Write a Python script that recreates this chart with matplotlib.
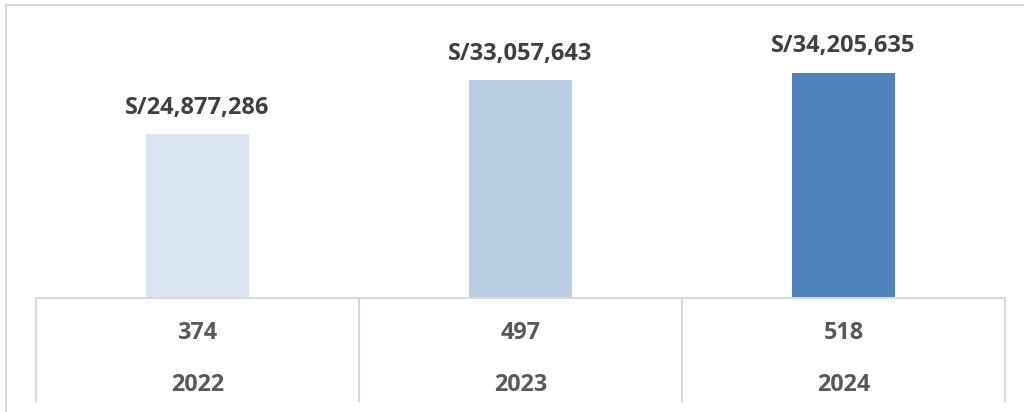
import matplotlib.pyplot as plt
import matplotlib.transforms as mtransforms
from matplotlib.lines import Line2D

# datos
years = ['2022', '2023', '2024']
amounts = [24877286, 33057643, 34205635]
counts = [374, 497, 518]
bar_colors = ['#DAE3F0', '#B9CDE5', '#4F81BD']

W, H = 1024, 412
fig = plt.figure(figsize=(W / 100, H / 100), dpi=100)
ax = fig.add_axes([36 / W, 1 - 298 / H, (1005 - 36) / W, (298 - 20) / H])

x = list(range(len(years)))
ax.bar(x, amounts, width=0.316, color=bar_colors)
ax.set_xlim(-0.5, len(years) - 0.5)
ax.set_ylim(0, 42.2e6)

for xi, v in zip(x, amounts):
    ax.annotate('S/{:,}'.format(v), (xi, v), xytext=(0, 19), textcoords='offset points',
                ha='center', va='center', fontsize=17, fontweight='bold',
                family='Open Sans', color='#404040')

# tabla debajo del eje
grid = '#D9D9D9'
for s in ['top', 'right', 'left']:
    ax.spines[s].set_visible(False)
ax.spines['bottom'].set_color(grid)
ax.spines['bottom'].set_linewidth(1.5)
ax.set_xticks([])
ax.set_yticks([])

trans = mtransforms.blended_transform_factory(ax.transData, ax.transAxes)
for b in [-0.5, 0.5, 1.5, 2.5]:
    ax.plot([b, b], [0, -0.372], transform=trans, color=grid, lw=1.5, clip_on=False)
for xi, c, yr in zip(x, counts, years):
    ax.text(xi, -0.126, str(c), transform=trans, ha='center', va='center',
            fontsize=16.8, fontweight='bold', family='Open Sans', color='#595959')
    ax.text(xi, -0.313, yr, transform=trans, ha='center', va='center',
            fontsize=16.8, fontweight='bold', family='Open Sans', color='#595959')

# marco exterior
fig.add_artist(Line2D([6 / W, 6 / W], [0, 1 - 5 / H], color=grid, lw=1.5))
fig.add_artist(Line2D([6 / W, 1], [1 - 5 / H, 1 - 5 / H], color=grid, lw=1.5))

fig.savefig('out.png', dpi=100)
